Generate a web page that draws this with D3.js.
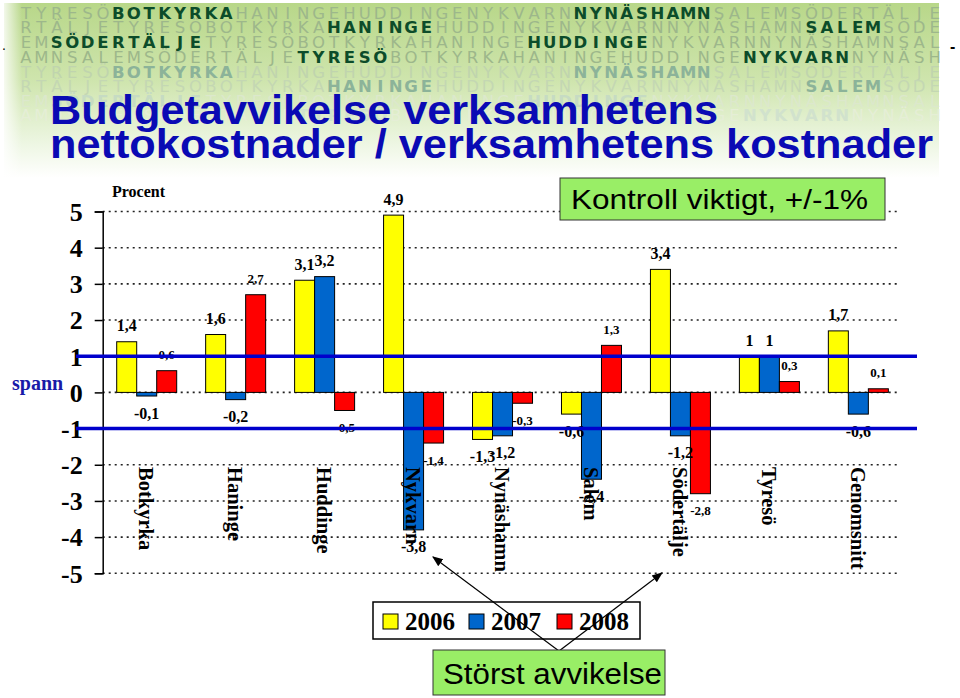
<!DOCTYPE html>
<html><head><meta charset="utf-8">
<script src="https://cdn.jsdelivr.net/npm/d3@7"></script>
<style>html,body{margin:0;padding:0;background:#fff;}svg{display:block;}</style>
</head><body>
<svg id="chart" width="960" height="698"></svg>
<script>
// ---------- DATA ----------
const categories = ["Botkyrka","Haninge","Huddinge","Nykvarn","Nynäshamn","Salem","Södertälje","Tyresö","Genomsnitt"];
const seriesNames = ["2006","2007","2008"];
const values2006 = [1.4, 1.6, 3.1, 4.9, -1.3, -0.6, 3.4, 1, 1.7];
const values2007 = [-0.1, -0.2, 3.2, -3.8, -1.2, -2.4, -1.2, 1, -0.6];
const values2008 = [0.6, 2.7, -0.5, -1.4, -0.3, 1.3, -2.8, 0.3, 0.1];
const yTickValues = [-5,-4,-3,-2,-1,0,1,2,3,4,5];
const limitLines = [1, -1];
const seriesColors = ["#ffff00", "#0066cc", "#ff0000"];
const titleLines = ["Budgetavvikelse verksamhetens", "nettokostnader / verksamhetens kostnader"];
const headerRows = [
  ["TYRESÖ","BOTKYRKA","HANINGE","HUDDINGE","NYKVARN","NYNÄSHAMN","SALEM","SÖDERTÄLJE"],
  ["RTÄLJE","TYRESÖ","BOTKYRKA","HANINGE","HUDDINGE","NYKVARN","NYNÄSHAMN","SALEM","SÖDE"],
  ["EM","SÖDERTÄLJE","TYRESÖ","BOTKYRKA","HANINGE","HUDDINGE","NYKVARN","NYNÄSHAMN","SAL"],
  ["AMN","SALEM","SÖDERTÄLJE","TYRESÖ","BOTKYRKA","HANINGE","HUDDINGE","NYKVARN","NYNÄSH"],
  ["TYRESÖ","BOTKYRKA","HANINGE","HUDDINGE","NYKVARN","NYNÄSHAMN","SALEM","SÖDERTÄLJE"],
  ["RTÄLJE","TYRESÖ","BOTKYRKA","HANINGE","HUDDINGE","NYKVARN","NYNÄSHAMN","SALEM","SÖDE"],
  ["EM","SÖDERTÄLJE","TYRESÖ","BOTKYRKA","HANINGE","HUDDINGE","NYKVARN","NYNÄSHAMN","SAL"],
  ["AMN","SALEM","SÖDERTÄLJE","TYRESÖ","BOTKYRKA","HANINGE","HUDDINGE","NYKVARN","NYNÄSH"]
];
const headerHighlights = [[1,5],[3,7],[1,5],[3,7],[1,5],[3,7],[1,5],[3,7]];

// ---------- SETUP ----------
const svg = d3.select("#chart");
const defs = svg.append("defs");
const serif = "'Liberation Serif','Times New Roman',serif";
const sans = "'Liberation Sans',Arial,sans-serif";

// header background
const g1 = defs.append("linearGradient").attr("id","hdrV").attr("x1",0).attr("y1",0).attr("x2",0).attr("y2",1);
g1.append("stop").attr("offset","0%").attr("stop-color","#b8d789");
g1.append("stop").attr("offset","45%").attr("stop-color","#cfe5ae");
g1.append("stop").attr("offset","80%").attr("stop-color","#edf6e2");
g1.append("stop").attr("offset","100%").attr("stop-color","#ffffff");
const g2 = defs.append("linearGradient").attr("id","hdrL").attr("x1",0).attr("y1",0).attr("x2",1).attr("y2",0);
g2.append("stop").attr("offset","0%").attr("stop-color","#ffffff").attr("stop-opacity",1);
g2.append("stop").attr("offset","100%").attr("stop-color","#ffffff").attr("stop-opacity",0);
svg.append("rect").attr("x",4).attr("y",3).attr("width",935).attr("height",175).attr("fill","url(#hdrV)");
svg.append("rect").attr("x",0).attr("y",0).attr("width",22).attr("height",180).attr("fill","url(#hdrL)");

// header letters
const rowBase = [18.5, 33, 48, 63, 77.5, 92, 106.5, 121];
const fadedCol = ["#9db78b","#9db78b","#9db78b","#9db78b","#c0d4ae","#c4d7b3","#dce8cc","#e5eed6"];
const hiCol = ["#0c4c2a","#0c4c2a","#0c4c2a","#0c4c2a","#8cb399","#8cb399","#c6dbc3","#d1e2cd"];
const pitch = 15.4, x0 = 26;
const hdr = svg.append("g");
headerRows.forEach((words, r) => {
  let idx = 0;
  words.forEach((w, wi) => {
    const hi = headerHighlights[r].includes(wi);
    Array.from(w).forEach(ch => {
      hdr.append("text").attr("x", x0 + idx*pitch).attr("y", rowBase[r])
        .attr("text-anchor","middle")
        .style("font-family","'DejaVu Sans',Verdana,sans-serif")
        .style("font-size","16.5px")
        .style("font-weight", hi ? "bold" : "normal")
        .attr("fill", hi ? hiCol[r] : fadedCol[r])
        .text(ch);
      idx++;
    });
  });
});
svg.append("text").attr("x",2).attr("y",50).style("font-family",sans).style("font-size","14px").text(".");
svg.append("text").attr("x",950).attr("y",52).style("font-family",sans).style("font-size","16px").style("font-weight","bold").text("-");

// title
const titleWidths = [668, 883];
const titleBase = [124, 158];
titleLines.forEach((t,i) => {
  svg.append("text").attr("x",50).attr("y",titleBase[i])
    .attr("textLength", titleWidths[i]).attr("lengthAdjust","spacingAndGlyphs")
    .style("font-family",sans).style("font-weight","bold").style("font-size","40px")
    .attr("fill","#0a0ab4").text(t);
});

// ---------- SCALES ----------
const x = d3.scaleBand().domain(categories).range([102.7, 903.3]).padding(0);
const x1 = d3.scaleBand().domain(seriesNames).range([14, 74]).padding(0);
const y = d3.scaleLinear().domain([-5, 5]).range([573.3, 211.5]);
const allSeries = [values2006, values2007, values2008];

// gridlines
svg.append("g").selectAll("line").data(yTickValues).join("line")
  .attr("x1", 102.7).attr("x2", 900)
  .attr("y1", d => y(d)).attr("y2", d => y(d))
  .attr("stroke","#222").attr("stroke-width",1.6).attr("stroke-dasharray","2,4");

// axis
const axis = svg.append("g").attr("transform","translate(102.7,0)")
  .call(d3.axisLeft(y).tickValues(yTickValues).tickSize(8).tickPadding(12).tickFormat(d => String(d)));
axis.select(".domain").attr("stroke","#000").attr("stroke-width",1.5);
axis.selectAll(".tick line").attr("stroke","#000").attr("stroke-width",1.5);
axis.selectAll(".tick text").style("font-family",serif).style("font-weight","bold").style("font-size","26px").attr("fill","#000").attr("dy","0.34em");

// bars
const bars = svg.append("g");
categories.forEach((c, ci) => {
  allSeries.forEach((vals, si) => {
    const v = vals[ci];
    bars.append("rect")
      .attr("x", x(c) + x1(seriesNames[si]))
      .attr("width", x1.bandwidth())
      .attr("y", y(Math.max(0, v)))
      .attr("height", Math.abs(y(v) - y(0)))
      .attr("fill", seriesColors[si]).attr("stroke","#000").attr("stroke-width",1);
  });
});

// value labels
const labels = svg.append("g");
categories.forEach((c, ci) => {
  allSeries.forEach((vals, si) => {
    const v = vals[ci];
    labels.append("text")
      .attr("x", x(c) + x1(seriesNames[si]) + x1.bandwidth()/2)
      .attr("y", v >= 0 ? y(v) - 16 : y(v) + 17)
      .attr("text-anchor","middle").attr("dominant-baseline","central")
      .style("font-family",serif).style("font-weight","bold")
      .style("font-size", si === 2 ? "13px" : "16px")
      .text(String(v).replace(".", ","));
  });
});

// limit lines
svg.append("g").selectAll("line").data(limitLines).join("line")
  .attr("x1", 76).attr("x2", 917)
  .attr("y1", d => y(d)).attr("y2", d => y(d))
  .attr("stroke","#0000cc").attr("stroke-width",3.5);

// category labels (rotated)
svg.append("g").selectAll("text").data(categories).join("text")
  .attr("transform", d => `translate(${x(d) + x.bandwidth()/2 - 8},467) rotate(90)`)
  .attr("text-anchor","start")
  .style("font-family",serif).style("font-weight","bold").style("font-size","20.5px")
  .text(d => d);

// axis annotations
svg.append("text").attr("x",112).attr("y",197).style("font-family",serif).style("font-weight","bold").style("font-size","16px").text("Procent");
svg.append("text").attr("x",12).attr("y",390).style("font-family",serif).style("font-weight","bold").style("font-size","20px").attr("fill","#1a1aa8").text("spann");

// Kontroll box
svg.append("rect").attr("x",560).attr("y",178).attr("width",325).attr("height",42).attr("fill","#99ee66").attr("stroke","#333").attr("stroke-width",1);
svg.append("text").attr("x",571).attr("y",209).attr("textLength",297).attr("lengthAdjust","spacingAndGlyphs")
  .style("font-family",sans).style("font-size","28px").attr("fill","#000").text("Kontroll viktigt, +/-1%");

// legend
const leg = svg.append("g");
leg.append("rect").attr("x",373).attr("y",602).attr("width",267).attr("height",37).attr("fill","#fff").attr("stroke","#000").attr("stroke-width",1.5);
const legX = [383, 469, 557];
seriesNames.forEach((s,i) => {
  leg.append("rect").attr("x",legX[i]).attr("y",614).attr("width",15).attr("height",15).attr("fill",seriesColors[i]).attr("stroke","#000").attr("stroke-width",1);
  leg.append("text").attr("x",legX[i]+22).attr("y",630).style("font-family",serif).style("font-weight","bold").style("font-size","25px").text(s);
});

// arrows
defs.append("marker").attr("id","arr").attr("viewBox","0 0 10 10").attr("refX",9).attr("refY",5)
  .attr("markerWidth",9).attr("markerHeight",9).attr("orient","auto-start-reverse")
  .append("path").attr("d","M0,1 L10,5 L0,9 z").attr("fill","#000");
[[433,557],[662,573]].forEach(p => {
  svg.append("line").attr("x1",559).attr("y1",651).attr("x2",p[0]).attr("y2",p[1])
    .attr("stroke","#000").attr("stroke-width",1.2).attr("marker-end","url(#arr)");
});

// Störst box
svg.append("rect").attr("x",433).attr("y",650).attr("width",232).attr("height",45).attr("fill","#99ee66").attr("stroke","#333").attr("stroke-width",1);
svg.append("text").attr("x",443).attr("y",684).attr("textLength",219).attr("lengthAdjust","spacingAndGlyphs")
  .style("font-family",sans).style("font-size","30px").attr("fill","#000").text("Störst avvikelse");
</script>
</body></html>
